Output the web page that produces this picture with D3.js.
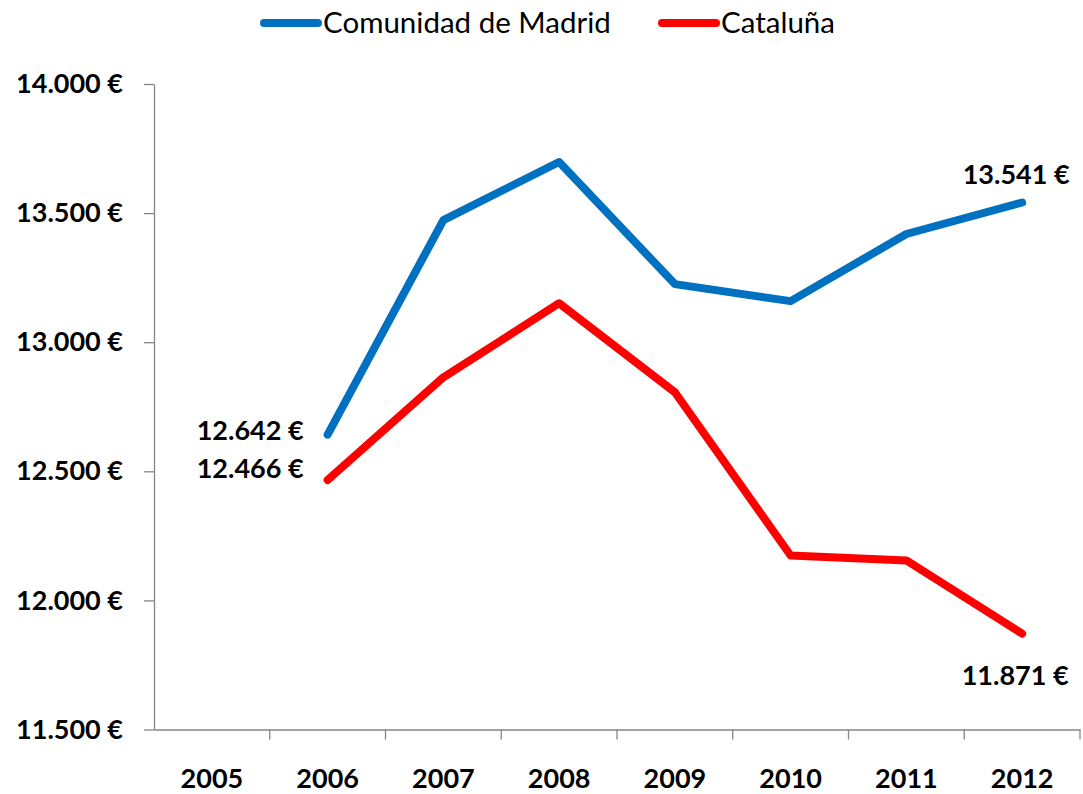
<!DOCTYPE html>
<html>
<head>
<meta charset="utf-8">
<script src="https://cdn.jsdelivr.net/npm/d3@7"></script>
<style>
    body { margin: 0; background: #fff; }
    svg text { font-family: Lato, "Open Sans", sans-serif; fill: #000; }
</style>
</head>
<body>
<div id="chart"></div>
<script>
// years on the category axis (2005 has no data)
const years = ["2005", "2006", "2007", "2008", "2009", "2010", "2011", "2012"];
const madridValues = [null, 12642, 13473, 13698, 13225, 13159, 13419, 13541];
const catalunaValues = [null, 12466, 12864, 13151, 12806, 12174, 12155, 11871];
const yTicks = [11500, 12000, 12500, 13000, 13500, 14000];
const seriesNames = ["Comunidad de Madrid", "Cataluña"];

const colors = {"Comunidad de Madrid": "#0070C0", "Cataluña": "#FF0000"};

const w = 1083, h = 794;
const margin = {top: 84, right: 3, bottom: 64.5, left: 154};

const locale = d3.formatLocale({decimal: ",", thousands: ".", grouping: [3], currency: ["", " €"]});
const fmt = v => locale.format(",.0f")(v) + " €";

let svg = d3.select("#chart")
    .append("svg")
    .attr("width", w)
    .attr("height", h);

let x = d3.scaleBand()
    .domain(years)
    .range([margin.left, w - margin.right]);

let y = d3.scaleLinear()
    .domain([11500, 14000])
    .range([h - margin.bottom, margin.top]);

const cx = d => x(d) + x.bandwidth() / 2;

// y axis
let yAxis = svg.append("g")
    .attr("transform", "translate(" + margin.left + ",0)")
    .call(d3.axisLeft(y)
        .tickValues(yTicks)
        .tickSize(10)
        .tickSizeOuter(0)
        .tickPadding(21)
        .tickFormat(fmt));

yAxis.selectAll("text")
    .style("font-size", "27px")
    .style("font-weight", "bold");

// x axis (labels only, ticks drawn between categories)
let xAxis = svg.append("g")
    .attr("transform", "translate(0," + y(11500) + ")")
    .call(d3.axisBottom(x).tickSize(0).tickSizeOuter(0));

xAxis.selectAll("text")
    .attr("y", 58)
    .attr("dy", 0)
    .style("font-size", "27px")
    .style("font-weight", "bold");

xAxis.selectAll(".boundary")
    .data(years.slice(1).concat(["end"]))
    .enter()
    .append("line")
    .attr("class", "boundary")
    .attr("x1", d => d === "end" ? x.range()[1] : x(d))
    .attr("x2", d => d === "end" ? x.range()[1] : x(d))
    .attr("y1", 0)
    .attr("y2", 10);

svg.selectAll(".domain, .tick line, .boundary")
    .attr("stroke", "#868686")
    .attr("stroke-width", 1.3);

let line = d3.line()
    .defined(d => d[1] != null)
    .x(d => cx(d[0]))
    .y(d => y(d[1]));

[[seriesNames[0], madridValues], [seriesNames[1], catalunaValues]].forEach(function (s) {
    svg.append("path")
        .datum(years.map((yr, i) => [yr, s[1][i]]))
        .attr("fill", "none")
        .attr("stroke", colors[s[0]])
        .attr("stroke-width", 8)
        .attr("stroke-linejoin", "round")
        .attr("stroke-linecap", "round")
        .attr("d", line);
});

// data labels at the ends
const first = 1, last = years.length - 1;
const labels = [
    {yr: years[first], v: madridValues[first], dx: -24, dy: 5, anchor: "end"},
    {yr: years[first], v: catalunaValues[first], dx: -24, dy: -2, anchor: "end"},
    {yr: years[last], v: madridValues[last], dx: -6, dy: -19, anchor: "middle"},
    {yr: years[last], v: catalunaValues[last], dx: -7, dy: 51, anchor: "middle"}
];

svg.selectAll(".data-label")
    .data(labels)
    .enter()
    .append("text")
    .attr("class", "data-label")
    .attr("x", d => cx(d.yr) + d.dx)
    .attr("y", d => y(d.v) + d.dy)
    .attr("text-anchor", d => d.anchor)
    .style("font-size", "27px")
    .style("font-weight", "bold")
    .text(d => fmt(d.v));

// legend
const legendX = [260, 658];
let legend = svg.selectAll(".legend")
    .data(seriesNames)
    .enter()
    .append("g")
    .attr("class", "legend")
    .attr("transform", (d, i) => "translate(" + legendX[i] + ",23)");

legend.append("line")
    .attr("x1", 4)
    .attr("x2", 58)
    .attr("stroke", d => colors[d])
    .attr("stroke-width", 8)
    .attr("stroke-linecap", "round");

legend.append("text")
    .attr("x", 63)
    .attr("y", 10)
    .style("font-size", "29.5px")
    .text(d => d);
</script>
</body>
</html>
